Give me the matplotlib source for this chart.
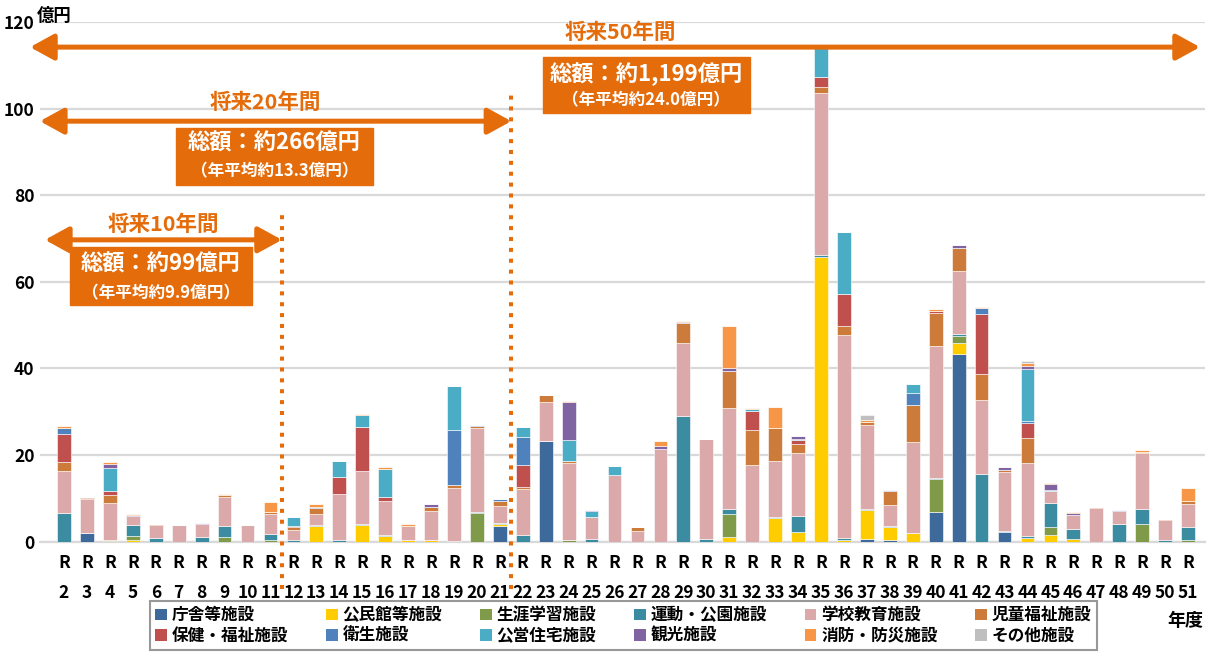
import matplotlib
matplotlib.use("Agg")
import matplotlib.pyplot as plt
from matplotlib.patches import Rectangle, Patch
import numpy as np

plt.rcParams["font.family"] = ["Noto Sans CJK JP", "DejaVu Sans"]
plt.rcParams["font.weight"] = "bold"

years = list(range(2, 52))
tick_labels = [f"R\n{y}" for y in years]

categories = ["庁舎等施設", "公民館等施設", "生涯学習施設", "運動・公園施設", "学校教育施設", "児童福祉施設",
              "保健・福祉施設", "衛生施設", "公営住宅施設", "観光施設", "消防・防災施設", "その他施設"]
colors = ["#3d6a9b", "#ffcc00", "#7f9a48", "#3b8ba1", "#dba9a9", "#cd7b3a",
          "#c0504d", "#4f81bd", "#4bacc6", "#8064a2", "#f79646", "#bfbfbf"]

# 億円, R2..R51 (10 per row)
chosha = [0, 2.1, 0, 0, 0, 0, 0, 0, 0, 0,
          0, 0, 0, 0, 0, 0, 0, 0, 0, 3.6,
          0, 23.2, 0, 0, 0, 0, 0, 0, 0, 0,
          0, 0, 0, 0, 0, 0.6, 0.3, 0, 6.9, 43.4,
          0, 2.2, 0, 0, 0, 0, 0, 0, 0, 0]
kominkan = [0, 0, 0.2, 0.5, 0, 0, 0, 0, 0, 0,
            0, 3.6, 0, 3.9, 1.4, 0.5, 0.5, 0, 0, 0.4,
            0, 0, 0, 0, 0, 0, 0, 0, 0, 1.1,
            0, 5.5, 2.2, 65.7, 0.4, 6.8, 3.0, 2.1, 0, 2.5,
            0, 0, 0.8, 1.5, 0.6, 0, 0, 0, 0, 0]
shogai = [0, 0, 0.3, 0.9, 0, 0, 0, 1.0, 0, 0.5,
          0, 0, 0, 0, 0, 0, 0, 0, 6.6, 0.15,
          0, 0, 0.3, 0, 0, 0, 0, 0, 0, 5.2,
          0, 0, 0, 0, 0, 0, 0, 0, 7.5, 1.5,
          0, 0, 0, 1.8, 0, 0, 0, 4.0, 0, 0.5]
undo = [6.7, 0, 0, 2.5, 0.85, 0, 1.1, 2.6, 0, 1.2,
        0.3, 0.2, 0.3, 0.3, 0.1, 0, 0, 0.1, 0.3, 0.15,
        1.5, 0, 0, 0.7, 0, 0, 0, 29.1, 0.6, 1.2,
        0, 0.2, 3.8, 0.4, 0.4, 0.2, 0.3, 0, 0.4, 0.5,
        15.6, 0.2, 0.5, 5.6, 2.3, 0, 4.2, 3.5, 0.4, 2.9]
gakko = [9.7, 7.8, 8.5, 2.1, 3.1, 3.8, 3.0, 6.7, 3.8, 4.6,
         2.5, 2.5, 10.7, 12.1, 7.8, 3.2, 6.7, 12.4, 19.4, 4.0,
         10.6, 9.1, 17.8, 5.0, 15.5, 2.4, 21.5, 16.8, 23.1, 23.3,
         17.8, 13.0, 14.5, 37.6, 46.9, 19.4, 4.8, 20.9, 30.5, 14.5,
         17.1, 13.8, 16.8, 2.9, 3.2, 7.7, 2.8, 13.0, 4.5, 5.3]
jido = [1.9, 0.2, 1.7, 0, 0.15, 0.1, 0.1, 0.4, 0.1, 0.5,
        0.6, 1.5, 0, 0, 0, 0, 0.9, 0.5, 0.5, 1.0,
        0.5, 1.6, 0.5, 0, 0, 0.9, 0, 4.5, 0, 8.5,
        8.0, 7.5, 2.1, 1.2, 2.1, 0.7, 3.3, 8.6, 7.5, 5.5,
        6.0, 0.4, 5.8, 0, 0, 0.2, 0, 0.3, 0.4, 0.6]
hoken = [6.5, 0.2, 1.1, 0, 0, 0, 0, 0, 0, 0,
         0.2, 0, 3.9, 10.1, 1.0, 0, 0, 0, 0, 0,
         5.0, 0, 0, 0, 0, 0, 0, 0, 0, 0,
         4.3, 0, 0.8, 2.3, 7.3, 0, 0, 0, 0.5, 0,
         13.9, 0, 3.5, 0, 0, 0, 0, 0, 0, 0]
eisei = [1.5, 0, 0, 0, 0, 0, 0, 0, 0, 0,
         0, 0.3, 0, 0, 0, 0, 0, 12.7, 0.2, 0.6,
         6.5, 0, 0, 0, 0, 0, 0, 0, 0, 0,
         0, 0, 0, 0, 0, 0, 0, 2.7, 0, 0,
         1.4, 0, 0.5, 0, 0, 0, 0, 0, 0, 0]
koei = [0, 0, 5.3, 0, 0, 0, 0, 0, 0, 0,
        2.0, 0, 3.7, 2.8, 6.6, 0, 0, 10.2, 0, 0,
        2.3, 0, 4.9, 1.5, 2.0, 0, 0, 0, 0, 0.15,
        0.5, 0, 0.4, 7.2, 14.4, 0, 0, 2.2, 0, 0,
        0, 0, 11.9, 0.2, 0, 0, 0, 0, 0, 0]
kanko = [0, 0, 0.8, 0.15, 0, 0, 0.1, 0, 0, 0.1,
         0, 0, 0, 0, 0, 0, 0.5, 0, 0, 0,
         0, 0, 8.8, 0.2, 0, 0, 0.5, 0.4, 0, 0.6,
         0, 0, 0.7, 0, 0, 0, 0.2, 0, 0, 0.6,
         0, 0.6, 0.8, 1.4, 0.6, 0, 0.3, 0, 0, 0]
shobo = [0.3, 0, 0.4, 0.2, 0, 0, 0, 0.3, 0, 2.3,
         0.1, 0.6, 0.1, 0.4, 0.3, 0.4, 0.2, 0, 0, 0,
         0, 0, 0.1, 0, 0, 0, 1.2, 0.2, 0, 9.8,
         0.2, 5.0, 0, 0, 0.1, 0.3, 0, 0, 0.5, 0,
         0.3, 0, 0.7, 0.2, 0.2, 0, 0, 0.4, 0, 3.2]
sonota = [0, 0, 0, 0, 0, 0, 0, 0, 0, 0,
          0, 0, 0, 0, 0, 0, 0, 0, 0, 0,
          0, 0, 0, 0, 0, 0, 0, 0, 0, 0,
          0, 0, 0, 0.4, 0, 1.2, 0, 0, 0, 0,
          0, 0, 0.4, 0, 0, 0, 0, 0, 0, 0]

series = [chosha, kominkan, shogai, undo, gakko, jido, hoken, eisei, koei, kanko, shobo, sonota]

ORANGE = "#e46c0a"

fig = plt.figure(figsize=(12.09, 6.52), dpi=100)
ax = fig.add_axes([40 / 1209, 1 - 541.7 / 652, 1165 / 1209, 519.7 / 652])

x = np.arange(len(years))
bottom = np.zeros(len(years))
for vals, color in zip(series, colors):
    vals = np.array(vals)
    ax.bar(x, vals, bottom=bottom, width=0.6, color=color, edgecolor="white", linewidth=0.4, zorder=3)
    bottom += vals

ax.set_xlim(-1.046, 49.74)
ax.set_ylim(0, 120)
ax.set_yticks(range(0, 121, 20))
ax.set_yticklabels([str(v) for v in range(0, 121, 20)], fontsize=12.5)
ax.set_xticks(x)
ax.set_xticklabels(tick_labels, fontsize=12.5, linespacing=1.85)
ax.tick_params(axis="both", length=0)
ax.tick_params(axis="x", pad=9)
ax.tick_params(axis="y", pad=4)
ax.grid(axis="y", color="#d9d9d9", linewidth=1.6, zorder=0)
for s in ["top", "right", "left"]:
    ax.spines[s].set_visible(False)
ax.spines["bottom"].set_color("#d9d9d9")
ax.spines["bottom"].set_linewidth(1.6)

fig.text(37 / 1209, 1 - 16 / 652, "億円", fontsize=12.5, ha="left", va="center")
fig.text(1185 / 1209, 1 - 620 / 652, "年度", fontsize=13, ha="center", va="center")

# period boundaries (between R11/R12 and R21/R22)
for xb, ytop in [(9.5, 76.6), (19.5, 103.1)]:
    ax.plot([xb, xb], [-11.0, ytop], color=ORANGE, linewidth=2.9, linestyle=(0, (1, 1.7)),
            clip_on=False, zorder=5)


def period(x0, x1, yarrow, title, xtitle, ytitle, box, line1, line2, ylines):
    ax.annotate("", xy=(x1, yarrow), xytext=(x0, yarrow), annotation_clip=False,
                arrowprops=dict(arrowstyle="<|-|>,head_length=0.4,head_width=0.22", color=ORANGE,
                                lw=3.6, mutation_scale=36, shrinkA=0, shrinkB=0), zorder=6)
    bx0, bx1, by0, by1 = box
    xc = (bx0 + bx1) / 2
    ax.text(xtitle, ytitle, title, color=ORANGE, fontsize=15.5, ha="center", va="center", zorder=6)
    ax.add_patch(Rectangle((bx0, by0), bx1 - bx0, by1 - by0, color=ORANGE, clip_on=False, zorder=6))
    ax.text(xc, ylines[0], line1, color="white", fontsize=16, ha="center", va="center", zorder=7)
    ax.text(xc, ylines[1], line2, color="white", fontsize=12, ha="center", va="center", zorder=7)


period(-0.83, 9.5, 69.7, "将来10年間", 4.32, 73.3, (0.26, 8.2, 54.7, 68.0),
       "総額：約99億円", "（年平均約9.9億円）", (64.0, 57.4))
period(-1.05, 19.5, 97.1, "将来20年間", 8.76, 101.5, (4.88, 13.47, 82.3, 95.5),
       "総額：約266億円", "（年平均約13.3億円）", (92.1, 85.5))
period(-1.48, 49.52, 114.2, "将来50年間", 24.24, 117.6, (20.88, 29.9, 99.0, 111.9),
       "総額：約1,199億円", "（年平均約24.0億円）", (108.0, 101.8))

handles = [Patch(facecolor=c, edgecolor="none") for c in colors]
order = [0, 6, 1, 7, 2, 8, 3, 9, 4, 10, 5, 11]
leg = fig.legend([handles[i] for i in order], [categories[i] for i in order], ncol=6,
                 loc="center", bbox_to_anchor=(623.5 / 1209, 1 - 625.5 / 652), fontsize=12,
                 handlelength=0.7, handleheight=0.7, handletextpad=0.3, columnspacing=2.25,
                 labelspacing=0.15, borderpad=0.3, frameon=True, fancybox=False)
leg.get_frame().set_edgecolor("#7f7f7f")
leg.get_frame().set_linewidth(1.5)

fig.savefig("out.png", dpi=100)
